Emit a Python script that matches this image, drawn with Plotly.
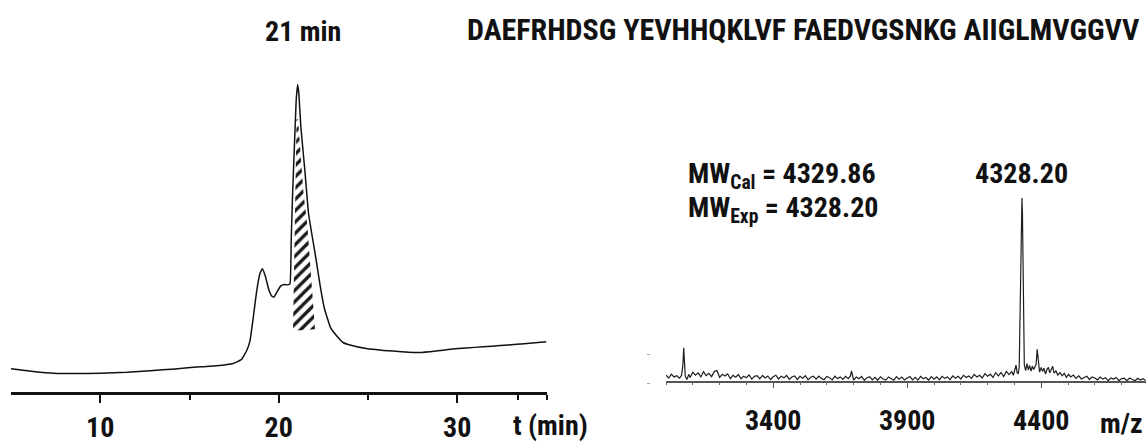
import plotly.graph_objects as go

# HPLC trace: retention time (min) and detector signal (relative, main peak = 100)
hplc_t = [5.0, 6.25, 7.4, 8.5, 10.0, 11.5, 12.8, 14.2, 15.6, 16.5,
          17.45, 17.92, 18.2, 18.39, 18.57, 18.76, 18.95, 19.08, 19.25, 19.45,
          19.6, 19.73, 19.9, 20.1, 20.3, 20.5, 20.63, 20.70, 20.78, 20.85,
          20.92, 20.98, 21.06, 21.13, 21.235, 21.47, 21.67, 22.08, 22.34, 22.55,
          22.90, 23.25, 23.62, 23.99, 24.9, 25.86, 26.9, 27.91, 28.8, 29.6,
          30.5, 31.46, 32.4, 33.33, 34.2, 35.0]
hplc_signal = [7.7, 6.8, 6.2, 6.1, 6.2, 6.5, 7.0, 7.6, 8.3, 8.6,
               9.35, 10.7, 13.5, 16.7, 24.2, 32.8, 38.7, 40.1, 37.7, 33.2,
               31.3, 30.9, 32.6, 34.5, 35.0, 34.9, 35.2, 50.0, 65.1, 75.8,
               86.5, 95.2, 100.0, 96.8, 86.5, 71.6, 58.0, 43.5, 33.9, 27.4,
               21.0, 18.3, 16.1, 15.4, 14.2, 13.6, 13.2, 12.9, 13.4, 14.0,
               14.4, 14.8, 15.2, 15.6, 16.0, 16.4]

# Collected fraction (hatched) outline
frac_t = [20.80, 21.00, 21.08, 21.38, 21.60, 21.75, 21.90, 22.03, 20.80]
frac_signal = [20.0, 88.7, 88.7, 65.1, 54.3, 43.5, 32.8, 20.5, 20.0]

hplc_ticks = [10, 20, 30]
hplc_minor_ticks = [15, 25, 33.4, 35]

# MALDI spectrum: m/z and relative intensity (base peak = 100)
ms_mz = [3000, 3010, 3020, 3030, 3040, 3050, 3058, 3063, 3066, 3069,
         3072, 3078, 3085, 3090, 3100, 3110, 3120, 3130, 3140, 3150,
         3160, 3170, 3180, 3190, 3200, 3210, 3220, 3230, 3240, 3250,
         3260, 3270, 3280, 3290, 3300, 3310, 3320, 3330, 3340, 3350,
         3360, 3370, 3380, 3390, 3400, 3410, 3420, 3430, 3440, 3450,
         3460, 3470, 3480, 3490, 3500, 3510, 3520, 3530, 3540, 3550,
         3560, 3570, 3580, 3590, 3600, 3610, 3620, 3630, 3640, 3650,
         3660, 3670, 3680, 3688, 3692, 3696, 3700, 3710, 3720, 3730,
         3740, 3750, 3760, 3770, 3780, 3790, 3800, 3810, 3820, 3830,
         3840, 3850, 3860, 3870, 3880, 3890, 3900, 3910, 3920, 3930,
         3940, 3950, 3960, 3970, 3980, 3990, 4000, 4010, 4020, 4030,
         4040, 4050, 4060, 4070, 4080, 4090, 4100, 4110, 4120, 4130,
         4140, 4150, 4160, 4170, 4180, 4190, 4200, 4210, 4220, 4230,
         4240, 4250, 4260, 4270, 4280, 4290, 4296, 4302, 4306, 4310,
         4314, 4318, 4321, 4324, 4326, 4328.2, 4330, 4332, 4334, 4337,
         4342, 4347, 4352, 4357, 4362, 4367, 4372, 4377, 4381, 4385,
         4389, 4394, 4400, 4405, 4410, 4416, 4421, 4427, 4432, 4437,
         4443, 4448, 4455, 4462, 4470, 4478, 4486, 4494, 4502, 4510,
         4520, 4530, 4540, 4550, 4560, 4570, 4580, 4590, 4600, 4610,
         4620, 4630, 4640, 4650, 4660, 4670, 4680, 4690, 4700, 4710,
         4720, 4730, 4740, 4750, 4760, 4770, 4780, 4790]
ms_intensity = [3.6, 2.0, 4.1, 2.6, 3.2, 1.9, 3.4, 9.0, 18.5, 12.0,
                3.0, 1.2, 4.0, 2.3, 5.1, 3.6, 4.8, 2.6, 5.4, 3.3,
                4.6, 2.8, 5.5, 6.1, 2.4, 4.0, 3.1, 4.3, 1.7, 3.5,
                2.4, 3.9, 1.6, 3.0, 2.2, 3.7, 1.4, 2.9, 3.3, 1.6,
                3.4, 2.0, 3.1, 1.2, 2.7, 3.5, 1.5, 3.0, 2.1, 3.4,
                1.3, 2.6, 3.1, 1.2, 2.9, 1.9, 3.3, 1.0, 2.4, 3.0,
                1.4, 3.1, 1.8, 1.1, 2.9, 2.2, 1.0, 3.0, 1.7, 2.6,
                1.2, 2.9, 1.6, 3.0, 5.9, 3.5, 0.8, 2.5, 1.6, 2.9,
                0.8, 2.2, 2.7, 1.0, 2.4, 0.8, 2.7, 1.5, 0.9, 2.6,
                1.6, 0.8, 2.7, 1.3, 2.5, 0.9, 2.0, 2.8, 1.0, 2.4,
                0.9, 2.9, 1.6, 2.3, 0.9, 2.8, 1.4, 2.6, 1.0, 2.9,
                1.8, 2.6, 1.1, 3.2, 1.9, 3.0, 1.5, 3.5, 2.3, 3.1,
                1.8, 4.0, 2.6, 3.5, 2.0, 4.4, 3.0, 4.1, 2.3, 4.9,
                3.2, 5.0, 2.8, 5.6, 3.9, 5.5, 3.5, 6.4, 9.0, 5.0,
                4.2, 8.0, 35.0, 78.0, 96.0, 100.0, 92.0, 55.0, 18.0, 9.0,
                6.0, 9.8, 6.4, 8.8, 5.8, 8.4, 6.6, 8.6, 9.5, 17.6,
                11.0, 5.2, 7.8, 5.6, 7.4, 4.2, 6.6, 7.8, 4.8, 6.5,
                8.4, 4.6, 6.0, 3.6, 5.0, 3.2, 4.6, 2.4, 4.0, 2.6,
                3.6, 1.8, 3.2, 1.5, 2.4, 3.0, 1.2, 2.6, 2.0, 1.0,
                2.5, 1.4, 2.2, 0.6, 2.0, 1.4, 2.3, 0.6, 1.6, 1.9,
                0.6, 2.0, 1.2, 0.5, 1.9, 0.9, 1.6, 0.6]

ms_ticks = [3400, 3900, 4400]
ms_minor_ticks = list(range(3000, 4701, 100))
ms_peak_mz = 4328.20
mw_calc = 4329.86
mw_exp = 4328.20

sequence = "DAEFRHDSG YEVHHQKLVF FAEDVGSNKG AIIGLMVGGVV"
fraction_label = "21 min"

FONT = "Roboto Condensed, Liberation Sans, Arial, sans-serif"
FSIZE = 28
W, H = 1148, 444


def px(x):
    return x / W


def py(y):
    return 1 - y / H


fig = go.Figure()

# hatched collected fraction
fig.add_trace(go.Scatter(
    x=frac_t, y=frac_signal, mode="lines", fill="toself",
    line=dict(width=0, color="white"),
    fillcolor="white",
    fillpattern=dict(shape="/", fgcolor="#1a1a1a", bgcolor="white",
                     fgopacity=1, size=8, solidity=0.42),
    xaxis="x", yaxis="y", hoverinfo="skip", showlegend=False))

# chromatogram
fig.add_trace(go.Scatter(
    x=hplc_t, y=hplc_signal, mode="lines",
    line=dict(color="#111111", width=1.5, shape="spline", smoothing=0.3),
    xaxis="x", yaxis="y", showlegend=False))

# mass spectrum
fig.add_trace(go.Scatter(
    x=ms_mz, y=ms_intensity, mode="lines",
    line=dict(color="#1e1e1e", width=1.2),
    xaxis="x2", yaxis="y2", showlegend=False))

# HPLC axes: signal 0 sits on the time axis at y=395 px, 3.1 px per unit
y1_bottom, y1_scale = 395, 3.1
y1_top_val = 110
# spectrum axes: intensity 0 at y=384.3 px, 1.85 px per unit
y2_zero, y2_scale = 384.3, 1.85
y2_lo, y2_hi = -2.2, 110

tickfont = dict(family=FONT, size=FSIZE, color="#111111", weight="bold")

fig.update_layout(
    width=W, height=H, autosize=False,
    margin=dict(l=0, r=0, t=0, b=0),
    paper_bgcolor="white", plot_bgcolor="white",
    font=dict(family=FONT, color="#111111"),
    xaxis=dict(
        domain=[px(11), px(546.5)], range=[5, 35], anchor="y",
        showgrid=False, zeroline=False,
        showline=True, linecolor="#111111", linewidth=2.5,
        ticks="outside", tickvals=hplc_ticks, ticklen=8, tickwidth=2,
        tickcolor="#111111", tickfont=tickfont, ticklabelstandoff=0,
        minor=dict(tickvals=hplc_minor_ticks, ticks="outside", ticklen=5,
                   tickwidth=2, tickcolor="#111111"),
    ),
    yaxis=dict(
        domain=[py(y1_bottom), py(y1_bottom - y1_top_val * y1_scale)],
        range=[0, y1_top_val], anchor="x", visible=False,
    ),
    xaxis2=dict(
        domain=[px(666), px(666 + 1790 * 0.268)], range=[3000, 4790],
        anchor="free", position=py(y2_zero),
        showgrid=False, zeroline=False,
        showline=True, linecolor="#555555", linewidth=1.5,
        ticks="outside", tickvals=ms_ticks, ticklen=6, tickwidth=1,
        tickcolor="#555555", tickfont=tickfont, ticklabelstandoff=8,
        minor=dict(tickvals=ms_minor_ticks, ticks="outside", ticklen=3,
                   tickwidth=1, tickcolor="#666666"),
    ),
    yaxis2=dict(
        domain=[py(y2_zero - y2_lo * y2_scale), py(y2_zero - y2_hi * y2_scale)],
        range=[y2_lo, y2_hi], anchor="free", position=px(650),
        showgrid=False, zeroline=False, showline=False,
        ticks="outside", tickvals=[-1.2, 14.8], ticklen=3, tickwidth=1,
        tickcolor="#aaaaaa", showticklabels=False,
    ),
)

ann_font = dict(family=FONT, size=FSIZE, color="#111111", weight="bold")
seq_font = dict(family=FONT, size=30, color="#111111", weight="bold")
fig.add_annotation(x=px(303), y=py(32), xref="paper", yref="paper",
                   text=fraction_label, showarrow=False, font=ann_font,
                   xanchor="center", yanchor="middle")
fig.add_annotation(x=px(803), y=py(30), xref="paper", yref="paper",
                   text=sequence, showarrow=False, font=seq_font,
                   xanchor="center", yanchor="middle")
fig.add_annotation(x=px(550), y=py(428), xref="paper", yref="paper",
                   text="t (min)", showarrow=False, font=ann_font,
                   xanchor="center", yanchor="middle")
fig.add_annotation(x=px(1145), y=py(426), xref="paper", yref="paper",
                   text="m/z", showarrow=False, font=ann_font,
                   xanchor="right", yanchor="middle")
fig.add_annotation(x=px(686), y=py(177), xref="paper", yref="paper",
                   text=f"MW<sub>Cal</sub> = {mw_calc:.2f}", showarrow=False,
                   font=ann_font, xanchor="left", yanchor="middle")
fig.add_annotation(x=px(686), y=py(211), xref="paper", yref="paper",
                   text=f"MW<sub>Exp</sub> = {mw_exp:.2f}", showarrow=False,
                   font=ann_font, xanchor="left", yanchor="middle")
fig.add_annotation(x=ms_peak_mz, y=100, xref="x2", yref="y2",
                   text=f"{ms_peak_mz:.2f}", showarrow=False, font=ann_font,
                   xanchor="center", yanchor="bottom", yshift=6)

fig.write_html("out.html")
